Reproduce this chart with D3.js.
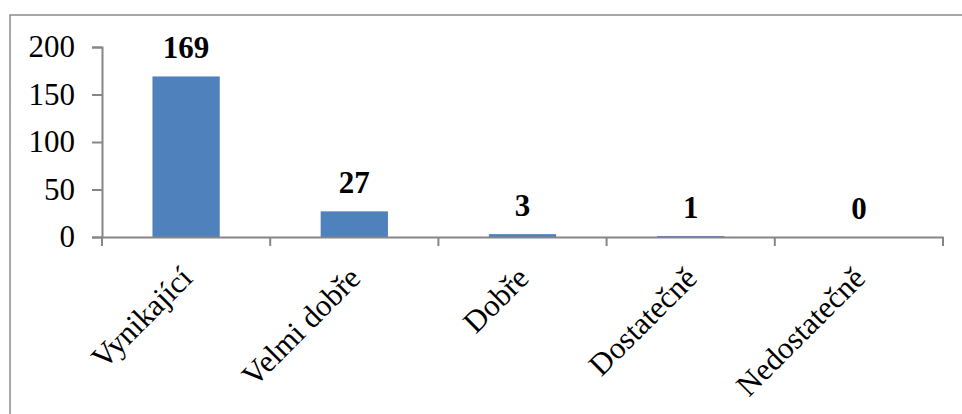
<!DOCTYPE html>
<html>
<head>
<meta charset="utf-8">
<script src="https://cdn.jsdelivr.net/npm/d3@7"></script>
<style>
  body { margin: 0; background: #fff; }
  text { font-family: "Liberation Serif", "Times New Roman", serif; }
</style>
</head>
<body>
<svg id="chart" width="962" height="414"></svg>
<script>
const categories = ["Vynikající", "Velmi dobře", "Dobře", "Dostatečně", "Nedostatečně"];
const values = [169, 27, 3, 1, 0];
const yTicks = [0, 50, 100, 150, 200];

const svg = d3.select("#chart");
const plotLeft = 102, plotRight = 943, plotTop = 47, plotBottom = 237;

// outer frame
svg.append("rect")
    .attr("x", 10).attr("y", 15)
    .attr("width", 960).attr("height", 410)
    .attr("fill", "none")
    .attr("stroke", "#8c8c8c")
    .attr("stroke-width", 1.5);

var x = d3.scaleBand()
    .domain(categories)
    .range([plotLeft, plotRight]);

var y = d3.scaleLinear()
    .domain([0, 200])
    .range([plotBottom, plotTop]);

// bars
svg.selectAll("rect.bar")
    .data(values)
    .enter()
    .append("rect")
    .attr("class", "bar")
    .attr("x", (d, i) => x(categories[i]) + x.bandwidth() * 0.3)
    .attr("width", x.bandwidth() * 0.4)
    .attr("y", d => y(d))
    .attr("height", d => plotBottom - y(d))
    .attr("fill", "#4f81bd");

// y axis
const yAxis = svg.append("g")
    .attr("transform", `translate(${plotLeft},0)`)
    .call(d3.axisLeft(y).tickValues(yTicks).tickSize(10).tickPadding(17));
yAxis.select(".domain").attr("stroke", "#868686").attr("stroke-width", 2);
yAxis.selectAll(".tick line").attr("stroke", "#868686").attr("stroke-width", 2);
yAxis.selectAll(".tick text")
    .attr("font-size", 31)
    .attr("font-family", "Liberation Serif")
    .attr("fill", "#000");

// x axis
const xAxis = svg.append("g")
    .attr("transform", `translate(0,${plotBottom})`)
    .call(d3.axisBottom(x).tickSize(0).tickFormat(""));
xAxis.select(".domain").attr("stroke", "#868686").attr("stroke-width", 2);

// category boundary ticks
const bounds = categories.map(c => x(c)).concat([x.range()[1]]);
svg.selectAll("line.xtick")
    .data(bounds)
    .enter()
    .append("line")
    .attr("x1", d => d).attr("x2", d => d)
    .attr("y1", plotBottom).attr("y2", plotBottom + 9)
    .attr("stroke", "#868686")
    .attr("stroke-width", 2);

// rotated category labels
svg.selectAll("text.cat")
    .data(categories)
    .enter()
    .append("text")
    .attr("class", "cat")
    .attr("transform", d => `translate(${x(d) + x.bandwidth() / 2 + 8},${plotBottom + 43}) rotate(-45)`)
    .attr("text-anchor", "end")
    .attr("font-size", 31)
    .text(d => d);

// value labels
svg.selectAll("text.val")
    .data(values)
    .enter()
    .append("text")
    .attr("class", "val")
    .attr("x", (d, i) => x(categories[i]) + x.bandwidth() / 2)
    .attr("y", d => Math.max(y(d) - 18, 57))
    .attr("text-anchor", "middle")
    .attr("font-size", 31)
    .attr("font-weight", "bold")
    .text(d => d);
</script>
</body>
</html>
